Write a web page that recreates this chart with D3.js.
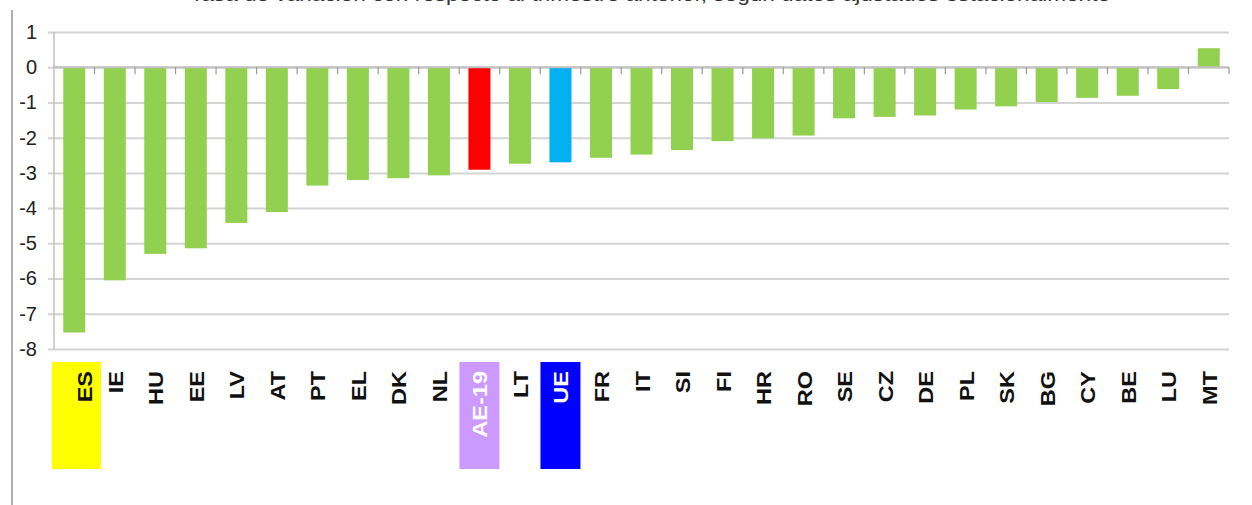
<!DOCTYPE html>
<html>
<head>
<meta charset="utf-8">
<script src="https://cdn.jsdelivr.net/npm/d3@7"></script>
<style>
  body { margin: 0; background: #fff; }
  svg { display: block; font-family: "Liberation Sans", Arial, sans-serif; }
</style>
</head>
<body>
<div id="chart"></div>
<script>
// countries, sorted by value
const countries = ['ES','IE','HU','EE','LV','AT','PT','EL','DK','NL','AE-19','LT','UE','FR','IT','SI','FI','HR','RO','SE','CZ','DE','PL','SK','BG','CY','BE','LU','MT'];
const values = [-7.53,-6.05,-5.3,-5.14,-4.42,-4.11,-3.36,-3.2,-3.15,-3.07,-2.91,-2.74,-2.7,-2.57,-2.48,-2.35,-2.1,-2.02,-1.94,-1.45,-1.41,-1.37,-1.2,-1.11,-0.99,-0.87,-0.81,-0.62,0.54];
const yTicks = [1,0,-1,-2,-3,-4,-5,-6,-7,-8];

const barColor = {'AE-19': '#ff0000', 'UE': '#00b0f0'};
const labelBox = {'ES': '#ffff00', 'AE-19': '#cc99ff', 'UE': '#0000ff'};
const labelText = {'AE-19': '#fff', 'UE': '#fff'};

const W = 1252, H = 505;
const svg = d3.select('#chart').append('svg').attr('width', W).attr('height', H);

// title, cut off at the top in the original
svg.append('text')
    .attr('x', 650).attr('y', 1)
    .attr('text-anchor', 'middle')
    .attr('font-size', 19).attr('fill', '#333')
    .attr('textLength', 920).attr('lengthAdjust', 'spacingAndGlyphs')
    .text('Tasa de variación con respecto al trimestre anterior, según datos ajustados estacionalmente');

// left frame line
svg.append('line').attr('x1', 12).attr('x2', 12).attr('y1', 10).attr('y2', H)
    .attr('stroke', '#b0b0b0').attr('stroke-width', 2);

const data = countries.map((c, i) => ({c, v: values[i]}));

const x = d3.scaleBand().domain(countries).range([54, 1229])
    .paddingInner(0.457).paddingOuter(0.2285);
const y = d3.scaleLinear().domain([-8, 1]).range([349, 32]);

// gridlines + y labels
const yAxis = svg.append('g').attr('transform', 'translate(54,0)')
    .call(d3.axisLeft(y).tickValues(yTicks).tickSize(-(1229 - 54)).tickFormat(d => String(d)).tickPadding(17));
yAxis.select('.domain').remove();
yAxis.selectAll('.tick line').attr('stroke', '#d4d4d4').attr('stroke-width', 2).attr('x1', -6);
yAxis.selectAll('.tick text').attr('font-size', 20).attr('fill', '#222')
    .attr('font-family', '"Liberation Sans", Arial, sans-serif');

// y axis line
svg.append('line').attr('x1', 54).attr('x2', 54).attr('y1', y(1)).attr('y2', y(-8))
    .attr('stroke', '#c0c0c0').attr('stroke-width', 1.5);

// bars
svg.append('g').selectAll('rect').data(data).join('rect')
    .attr('x', d => x(d.c))
    .attr('width', x.bandwidth())
    .attr('y', d => y(Math.max(0, d.v)))
    .attr('height', d => Math.abs(y(d.v) - y(0)))
    .attr('fill', d => barColor[d.c] || '#92d050');

// zero line with category ticks
svg.append('line').attr('x1', 54).attr('x2', 1229).attr('y1', y(0)).attr('y2', y(0))
    .attr('stroke', '#c0c0c0').attr('stroke-width', 2);
svg.append('g').selectAll('line').data(countries).join('line')
    .attr('x1', c => x(c) + x.bandwidth() / 2 + x.step() / 2)
    .attr('x2', c => x(c) + x.bandwidth() / 2 + x.step() / 2)
    .attr('y1', y(0)).attr('y2', y(0) + 7)
    .attr('stroke', '#999').attr('stroke-width', 1.2);

// highlighted label boxes
const boxes = countries.filter(c => labelBox[c]);
svg.append('g').selectAll('rect').data(boxes).join('rect')
    .attr('x', c => c === 'ES' ? 52 : x(c) + x.bandwidth() / 2 - 20)
    .attr('width', c => c === 'ES' ? 49 : 40)
    .attr('y', 362).attr('height', 107)
    .attr('fill', c => labelBox[c]);

// category labels, vertical
svg.append('g').selectAll('text').data(countries).join('text')
    .attr('transform', c => `translate(${x(c) + x.bandwidth() / 2 + 8 + (c === 'ES' ? 10 : 0)},371) rotate(-90) scale(1.12,1)`)
    .attr('text-anchor', 'end')
    .attr('font-size', 21).attr('font-weight', 'bold')
    .attr('fill', c => labelText[c] || '#111')
    .text(c => c);
</script>
</body>
</html>
